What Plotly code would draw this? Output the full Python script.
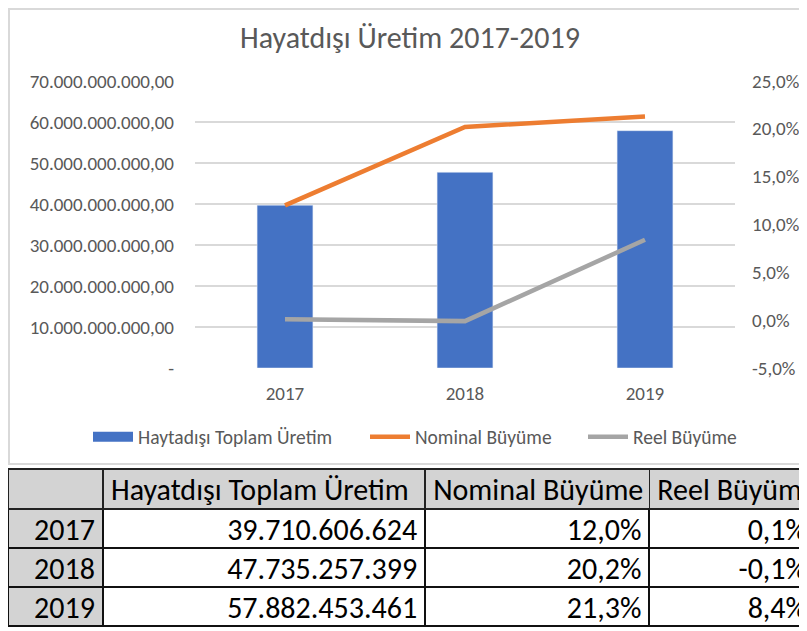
import plotly.graph_objects as go

# data
years = ["2017", "2018", "2019"]
uretim = [39710606624, 47735257399, 57882453461]
nominal = [12.0, 20.2, 21.3]
reel = [0.1, -0.1, 8.4]

left_ticks = [0, 10e9, 20e9, 30e9, 40e9, 50e9, 60e9, 70e9]
right_ticks = [-5, 0, 5, 10, 15, 20, 25]
table_cols = ["", "Hayatdışı Toplam Üretim", "Nominal Büyüme", "Reel Büyüme"]

FONT = "Carlito, Liberation Sans Narrow, Liberation Sans, Arial"
GREY_TXT = "#595959"
GRID = "#D9D9D9"
BLUE = "#4472C4"


def tr_num(v, dec=0):
    s = f"{v:,.{dec}f}"
    return s.replace(",", "#").replace(".", ",").replace("#", ".")


def left_label(v):
    return "-" if v == 0 else tr_num(v, 2)


def pct(v):
    return tr_num(v, 1) + "%"


W, H = 807, 631
OX, OY = 8, 8  # page body margin
px = lambda x: max(0.0, (x - OX) / W)
py = lambda y: 1 - (y - OY) / H

fig = go.Figure()
fig.add_trace(go.Bar(
    x=years, y=uretim, name="Haytadışı Toplam Üretim",
    marker=dict(color=BLUE), yaxis="y", showlegend=False,
))
# legend entry with a wide flat swatch, like the Excel legend
fig.add_trace(go.Scatter(
    x=[None], y=[None], name="Haytadışı Toplam Üretim", mode="lines",
    line=dict(color=BLUE, width=10), yaxis="y", legend="legend",
))
fig.add_trace(go.Scatter(
    x=years, y=nominal, name="Nominal Büyüme", mode="lines",
    line=dict(color="#ED7D31", width=4.5), yaxis="y2", legend="legend2",
))
fig.add_trace(go.Scatter(
    x=years, y=reel, name="Reel Büyüme", mode="lines",
    line=dict(color="#A5A5A5", width=4.5), yaxis="y2", legend="legend3",
))

# table below the chart
tfont = dict(family=FONT, size=30, color="#000000")
fig.add_trace(go.Table(
    domain=dict(x=[px(5), 1.0], y=[py(628), py(469)]),
    columnwidth=[94, 319, 222, 164],
    header=dict(
        values=[c.replace(" ", "\u00a0") for c in table_cols],
        fill=dict(color="#D3D3D3"),
        line=dict(color="#222222", width=1.5),
        align="left", font=tfont, height=40,
    ),
    cells=dict(
        values=[years, [tr_num(v) for v in uretim],
                [pct(v) for v in nominal], [pct(v) for v in reel]],
        fill=dict(color=["#D3D3D3", "#FFFFFF", "#FFFFFF", "#FFFFFF"]),
        line=dict(color="#111111", width=2),
        align="right", font=tfont, height=39,
    ),
))

legend_style = dict(orientation="h", xanchor="left", y=py(437), yanchor="middle",
                    itemwidth=40, font=dict(size=19.5, color=GREY_TXT))

fig.update_layout(
    width=W, height=H,
    margin=dict(l=0, r=0, t=0, b=0, autoexpand=False),
    paper_bgcolor="white", plot_bgcolor="white",
    font=dict(family=FONT, size=19, color=GREY_TXT),
    bargap=0.69,
    showlegend=True,
    legend=dict(x=px(88), **legend_style),
    legend2=dict(x=px(365), **legend_style),
    legend3=dict(x=px(583), **legend_style),
    xaxis=dict(domain=[px(195), px(735)], showline=False, ticks="",
               automargin=False,
               tickfont=dict(size=19, color=GREY_TXT), ticklabelstandoff=12),
    yaxis=dict(domain=[py(368), py(81)], range=[0, 70e9], automargin=False,
               tickvals=left_ticks, ticktext=[left_label(v) for v in left_ticks],
               showgrid=True, gridcolor=GRID, gridwidth=1.5, zeroline=False,
               tickfont=dict(size=19, color=GREY_TXT), ticklabelstandoff=20),
    yaxis2=dict(overlaying="y", side="right", range=[-5, 25], automargin=False,
                tickvals=right_ticks, ticktext=[pct(v) for v in right_ticks],
                showgrid=False, zeroline=False,
                tickfont=dict(size=19, color=GREY_TXT), ticklabelstandoff=16),
    annotations=[dict(
        text="Hayatdışı Üretim 2017-2019", x=px(410), y=py(38),
        xref="paper", yref="paper", xanchor="center", yanchor="middle",
        showarrow=False, font=dict(size=30, color=GREY_TXT),
    )],
    shapes=[dict(
        type="rect", xref="paper", yref="paper",
        x0=px(9), x1=1.02, y0=py(464), y1=py(9),
        line=dict(color="#D9D9D9", width=2), layer="below",
    )],
)

fig.write_html("out.html")
